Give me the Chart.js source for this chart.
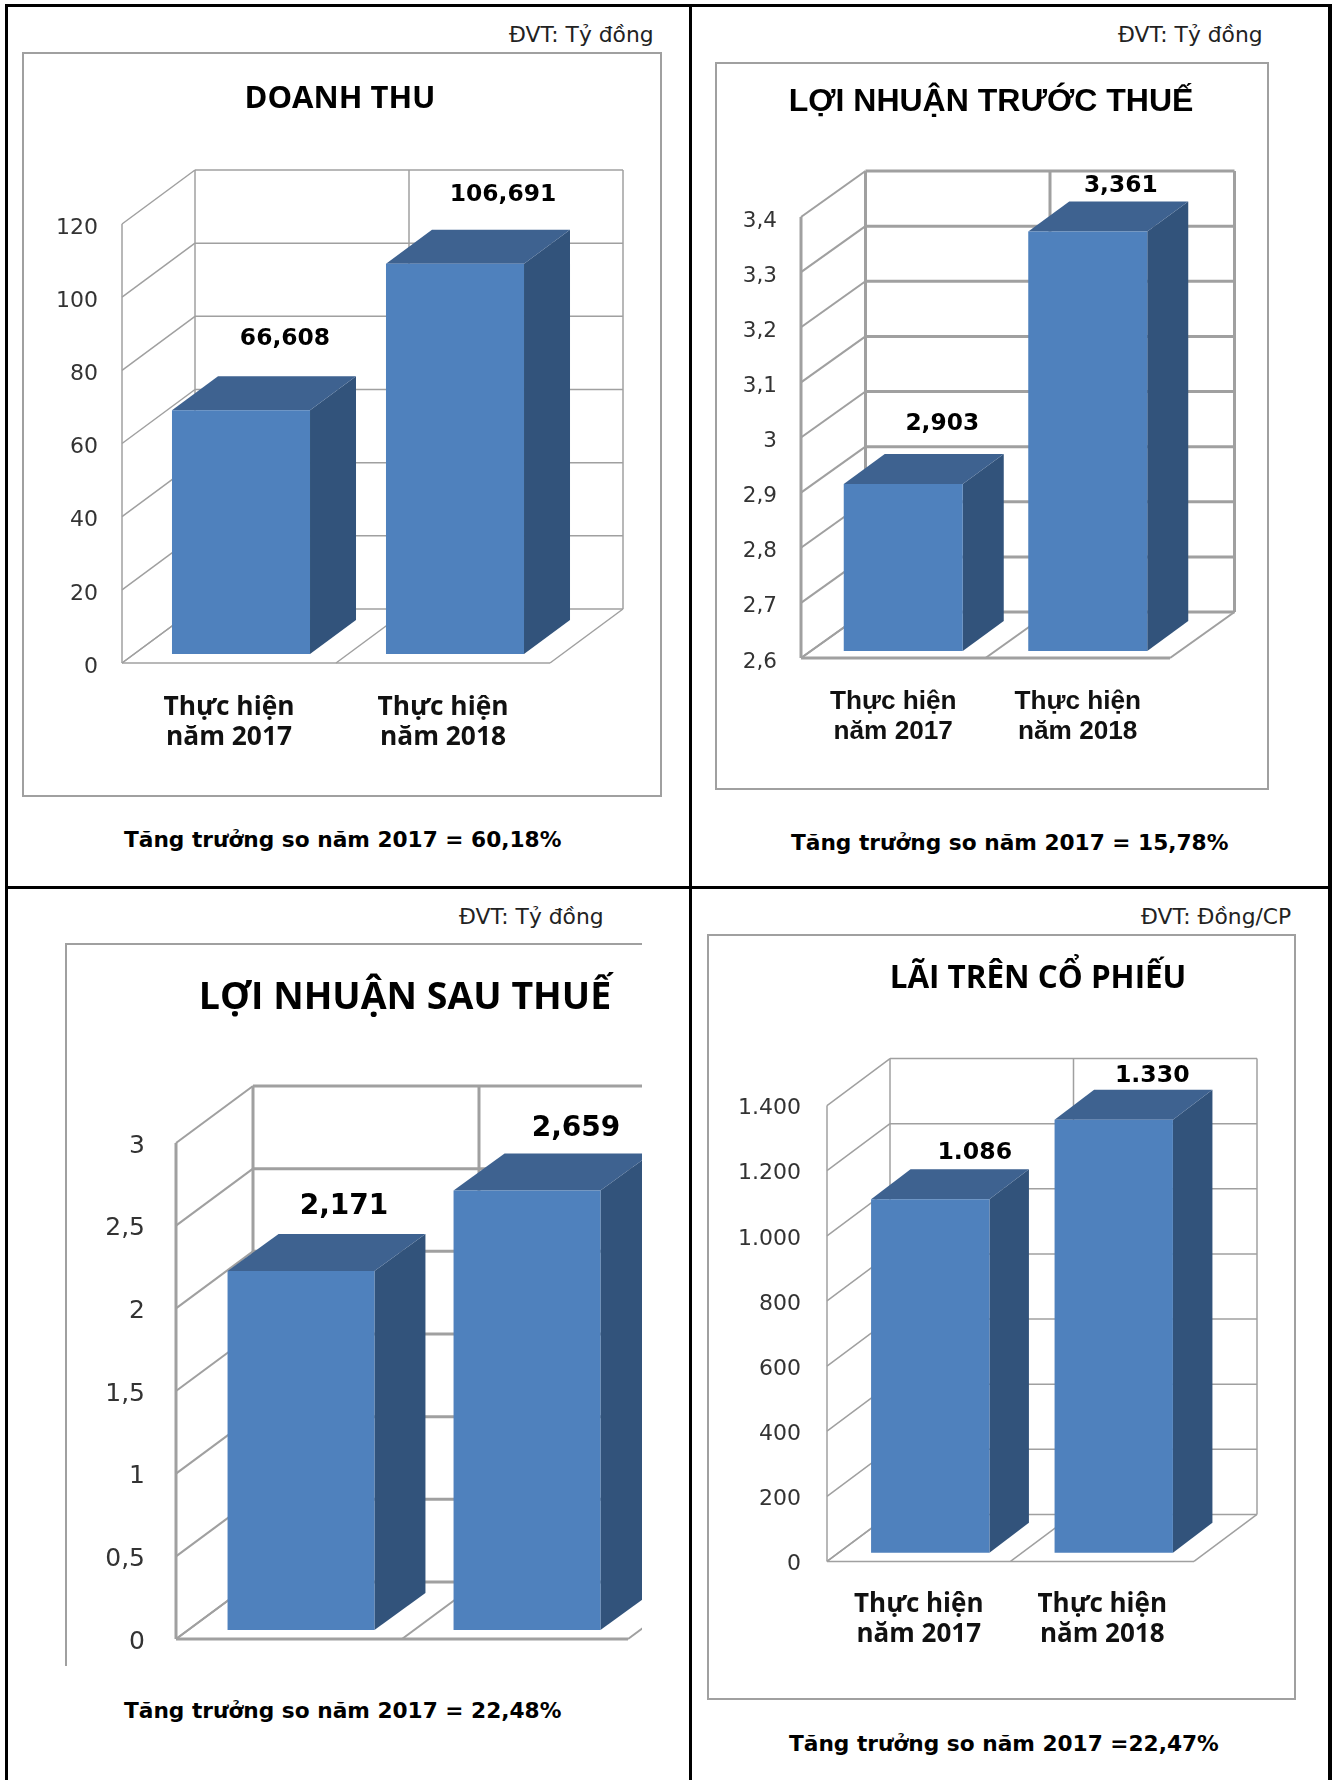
<!DOCTYPE html>
<html lang="vi">
<head>
<meta charset="utf-8">
<title>Kết quả kinh doanh 2018</title>
<script src="https://cdn.jsdelivr.net/npm/chart.js@4/dist/chart.umd.min.js"></script>
<style>
  html, body { margin: 0; padding: 0; background: #fff; }
  #trang { position: relative; width: 1332px; height: 1780px; overflow: hidden; }
  .ke { position: absolute; background: #000; }
  .khung { position: absolute; overflow: hidden; box-sizing: border-box; border: 2px solid #a0a0a0; background: #fff; }
  .khung canvas { position: absolute; left: 0; top: 0; }
  .chu { position: absolute; white-space: nowrap; color: #222; font-family: "DejaVu Sans", sans-serif; line-height: 1; }
  .dvt { font-size: 21.8px; }
  .tang { font-size: 21.7px; font-weight: bold; color: #000; }
</style>
</head>
<body>
<div id="trang">
  <div class="ke" style="left:5px;top:4px;width:1327px;height:3px"></div>
  <div class="ke" style="left:5px;top:886px;width:1327px;height:3px"></div>
  <div class="ke" style="left:5px;top:4px;width:3px;height:1776px"></div>
  <div class="ke" style="left:689px;top:4px;width:3px;height:1776px"></div>
  <div class="ke" style="left:1328px;top:4px;width:4px;height:1776px"></div>
</div>

<script>
const categories = [["Thực hiện", "năm 2017"], ["Thực hiện", "năm 2018"]];

const doanhThuValues = [66.608, 106.691];
const doanhThuText = ["66,608", "106,691"];
const doanhThuTicks = [0, 20, 40, 60, 80, 100, 120];
const doanhThuTickText = ["0", "20", "40", "60", "80", "100", "120"];

const truocThueValues = [2.903, 3.361];
const truocThueText = ["2,903", "3,361"];
const truocThueTicks = [2.6, 2.7, 2.8, 2.9, 3, 3.1, 3.2, 3.3, 3.4];
const truocThueTickText = ["2,6", "2,7", "2,8", "2,9", "3", "3,1", "3,2", "3,3", "3,4"];

const sauThueValues = [2.171, 2.659];
const sauThueText = ["2,171", "2,659"];
const sauThueTicks = [0, 0.5, 1, 1.5, 2, 2.5, 3];
const sauThueTickText = ["0", "0,5", "1", "1,5", "2", "2,5", "3"];

const epsValues = [1086, 1330];
const epsText = ["1.086", "1.330"];
const epsTicks = [0, 200, 400, 600, 800, 1000, 1200, 1400];
const epsTickText = ["0", "200", "400", "600", "800", "1.000", "1.200", "1.400"];

const MAU_TRUOC = "#4f81bd";
const MAU_TREN = "#3e6290";
const MAU_BEN = "#32537b";
const MAU_LUOI = "#a0a0a0";

// ve tuong, san va luoi cua khung 3D
const khung3D = {
  id: "khung3D",
  beforeDatasetsDraw(chart, args, o) {
    const { ctx, chartArea: a } = chart;
    const y = chart.scales.y;
    const mid = (a.left + a.right) / 2;
    const zero = y.getPixelForValue(y.min);
    const dinh = y.getPixelForValue(y.max);
    ctx.save();
    ctx.strokeStyle = MAU_LUOI;
    const line = (x1, y1, x2, y2, lw) => {
      ctx.lineWidth = lw;
      ctx.beginPath();
      ctx.moveTo(x1, y1);
      ctx.lineTo(x2, y2);
      ctx.stroke();
    };
    // duong cheo manh hon duong ngang
    const cheo = Math.max(o.lineWidth * 0.7, 1.5);
    y.ticks.forEach((t) => {
      const p = y.getPixelForValue(t.value);
      line(a.left, p, a.left + o.dx, p + o.dy, cheo);
      line(a.left + o.dx, p + o.dy, a.right + o.dx, p + o.dy, o.lineWidth);
    });
    [a.left, mid, a.right].forEach((x) => {
      line(x + o.dx, zero + o.dy, x + o.dx, dinh + o.dy, o.lineWidth);
      line(x, zero, x + o.dx, zero + o.dy, cheo);
    });
    line(a.left, zero, a.left, dinh, o.lineWidth);
    line(a.left, zero, a.right, zero, o.lineWidth);
    ctx.restore();
  },
  beforeDatasetDraw(chart, args, o) {
    const { ctx } = chart;
    ctx.save();
    // cot nam lui vao trong san mot doan
    ctx.translate(o.barX, o.barY);
    chart.getDatasetMeta(args.index).data.forEach((bar) => {
      const l = bar.x - bar.width / 2;
      const r = bar.x + bar.width / 2;
      ctx.fillStyle = MAU_BEN;
      ctx.beginPath();
      ctx.moveTo(r, bar.y);
      ctx.lineTo(r + o.barDx, bar.y + o.barDy);
      ctx.lineTo(r + o.barDx, bar.base + o.barDy);
      ctx.lineTo(r, bar.base);
      ctx.closePath();
      ctx.fill();
      ctx.fillStyle = MAU_TREN;
      ctx.beginPath();
      ctx.moveTo(l, bar.y);
      ctx.lineTo(l + o.barDx, bar.y + o.barDy);
      ctx.lineTo(r + o.barDx, bar.y + o.barDy);
      ctx.lineTo(r, bar.y);
      ctx.closePath();
      ctx.fill();
    });
  },
  afterDatasetDraw(chart) {
    chart.ctx.restore();
  },
  afterDraw(chart, args, o) {
    const { ctx } = chart;
    ctx.save();
    ctx.fillStyle = "#000";
    ctx.textAlign = "center";
    ctx.textBaseline = "middle";
    ctx.font = o.titleFont;
    ctx.fillText(o.title, o.titleX, o.titleY);
    ctx.font = o.valueFont;
    chart.getDatasetMeta(0).data.forEach((bar, i) => {
      ctx.fillText(o.valueText[i], bar.x + o.labelDx[i], bar.y + o.labelDy[i]);
    });
    ctx.restore();
  },
};

Chart.register(khung3D);

function veBieuDo(p) {
  const trang = document.getElementById("trang");

  const khung = document.createElement("div");
  khung.className = "khung";
  khung.style.cssText = `left:${p.fx}px;top:${p.fy}px;width:${p.fw}px;height:${p.fh}px;` + (p.khungCss || "");
  const canvas = document.createElement("canvas");
  const w = p.canvasW || p.fw;
  const h = p.canvasH || p.fh;
  canvas.width = w;
  canvas.height = h;
  canvas.style.width = w + "px";
  canvas.style.height = h + "px";
  khung.appendChild(canvas);
  trang.appendChild(khung);

  // border 2px nam trong khung, canvas bat dau tu ben trong border
  const ox = p.fx + 2;
  const oy = p.fy + 2;

  new Chart(canvas, {
    type: "bar",
    data: {
      labels: categories,
      datasets: [{
        data: p.values,
        base: p.ticks[0],
        backgroundColor: MAU_TRUOC,
        borderWidth: 0,
        barPercentage: p.barPct,
        categoryPercentage: 1,
        clip: false,
      }],
    },
    options: {
      responsive: false,
      animation: false,
      layout: {
        padding: {
          left: 0,
          right: w - (p.x1 - ox),
          top: p.yTop - oy,
          bottom: 0,
        },
      },
      plugins: {
        legend: { display: false },
        tooltip: { enabled: false },
        khung3D: {
          lineWidth: p.lineWidth,
          dx: p.dx, dy: p.dy,
          barX: p.barX, barY: p.barY,
          barDx: p.barDx, barDy: p.barDy,
          title: p.title, titleFont: p.titleFont,
          titleX: p.titleX - ox, titleY: p.titleY - oy,
          valueText: p.valueText, valueFont: p.valueFont,
          labelDx: p.labelDx, labelDy: p.labelDy,
        },
      },
      scales: {
        x: {
          // chu nam trong hop cua truc, nen giu nguyen phan con lai cua canvas
          afterFit: (s) => { s.height = h - (p.yZero - oy); },
          grid: { display: false },
          border: { display: false },
          ticks: {
            display: p.catFont !== null,
            autoSkip: false,
            maxRotation: 0,
            padding: p.catPad,
            color: "#111",
            font: p.catFont || {},
          },
        },
        y: {
          min: p.ticks[0],
          max: p.ticks[p.ticks.length - 1],
          afterBuildTicks: (s) => { s.ticks = p.ticks.map((v) => ({ value: v })); },
          afterFit: (s) => { s.width = p.x0 - ox; },
          grid: { display: false },
          border: { display: false },
          ticks: {
            padding: p.tickPad,
            color: "#333",
            // dong trong + lineHeight nho: day so xuong thap hon duong luoi mot chut
            font: { family: "DejaVu Sans", size: p.tickSize, lineHeight: p.tickShift * 2 + "px" },
            callback: (v, i) => ["", p.tickText[i]],
          },
        },
      },
    },
  });

  themChu(p.dvt, "dvt", p.dvtX, p.dvtY);
  themChu(p.tang, "tang", p.tangX, p.tangY);
}

function themChu(text, cls, x, yGiua) {
  const el = document.createElement("div");
  el.className = "chu " + cls;
  el.textContent = text;
  el.style.left = x + "px";
  el.style.top = yGiua + "px";
  el.style.transform = "translateY(-50%)";
  document.getElementById("trang").appendChild(el);
}

veBieuDo({
  fx: 22, fy: 52, fw: 640, fh: 745,
  x0: 122, x1: 550, yTop: 224, yZero: 663,
  dx: 73, dy: -54, barX: 12, barY: -9, barDx: 46, barDy: -34, barPct: 0.645, lineWidth: 1.5,
  values: doanhThuValues, valueText: doanhThuText, ticks: doanhThuTicks, tickText: doanhThuTickText,
  tickSize: 22, tickPad: 16, tickShift: 4,
  title: "DOANH THU", titleFont: "bold 31px 'Open Sans'", titleX: 340, titleY: 99,
  valueFont: "bold 23.4px 'DejaVu Sans'", labelDx: [56, 60], labelDy: [-80, -78],
  catFont: { family: "Open Sans", size: 26.3, weight: "bold", lineHeight: 1.16 }, catPad: 21,
  dvt: "ĐVT: Tỷ đồng", dvtX: 509, dvtY: 35,
  tang: "Tăng trưởng so năm 2017 = 60,18%", tangX: 124, tangY: 840,
});

veBieuDo({
  fx: 715, fy: 62, fw: 554, fh: 728,
  x0: 801, x1: 1170, yTop: 217, yZero: 658,
  dx: 64.5, dy: -46, barX: 10, barY: -7, barDx: 41, barDy: -30, barPct: 0.645, lineWidth: 3,
  values: truocThueValues, valueText: truocThueText, ticks: truocThueTicks, tickText: truocThueTickText,
  tickSize: 21.5, tickPad: 16, tickShift: 4,
  title: "LỢI NHUẬN TRƯỚC THUẾ", titleFont: "bold 32px 'Liberation Sans'", titleX: 991, titleY: 102,
  valueFont: "bold 23.3px 'DejaVu Sans'", labelDx: [49, 43], labelDy: [-67.5, -52.5],
  catFont: { family: "Liberation Sans", size: 26.2, weight: "bold", lineHeight: 1.17 }, catPad: 20,
  dvt: "ĐVT: Tỷ đồng", dvtX: 1118, dvtY: 35,
  tang: "Tăng trưởng so năm 2017 = 15,78%", tangX: 791, tangY: 843,
});

veBieuDo({
  fx: 65, fy: 943, fw: 577, fh: 723, canvasW: 660, canvasH: 780,
  khungCss: "border-right:none;border-bottom:none;",
  x0: 176, x1: 628, yTop: 1143, yZero: 1639,
  dx: 77, dy: -57, barX: 12, barY: -9, barDx: 51, barDy: -37, barPct: 0.65, lineWidth: 3,
  values: sauThueValues, valueText: sauThueText, ticks: sauThueTicks, tickText: sauThueTickText,
  tickSize: 25, tickPad: 23, tickShift: 3,
  title: "LỢI NHUẬN SAU THUẾ", titleFont: "bold 37.5px 'Open Sans'", titleX: 405, titleY: 998,
  valueFont: "bold 28px 'DejaVu Sans'", labelDx: [55, 61], labelDy: [-73, -71],
  catFont: null, catPad: 0,
  dvt: "ĐVT: Tỷ đồng", dvtX: 459, dvtY: 917,
  tang: "Tăng trưởng so năm 2017 = 22,48%", tangX: 124, tangY: 1711,
});

veBieuDo({
  fx: 707, fy: 934, fw: 589, fh: 766,
  x0: 827, x1: 1194, yTop: 1105.6, yZero: 1561.4,
  dx: 63, dy: -47, barX: 11.5, barY: -8.6, barDx: 39.5, barDy: -30, barPct: 0.645, lineWidth: 1.5,
  values: epsValues, valueText: epsText, ticks: epsTicks, tickText: epsTickText,
  tickSize: 22, tickPad: 18, tickShift: 3,
  title: "LÃI TRÊN CỔ PHIẾU", titleFont: "bold 31.4px 'Open Sans'", titleX: 1038, titleY: 979,
  valueFont: "bold 23.6px 'DejaVu Sans'", labelDx: [56, 50], labelDy: [-54.6, -52.6],
  catFont: { family: "Open Sans", size: 26, weight: "bold", lineHeight: 1.17 }, catPad: 20,
  dvt: "ĐVT: Đồng/CP", dvtX: 1141, dvtY: 917,
  tang: "Tăng trưởng so năm 2017 =22,47%", tangX: 789, tangY: 1744,
});
</script>
</body>
</html>
